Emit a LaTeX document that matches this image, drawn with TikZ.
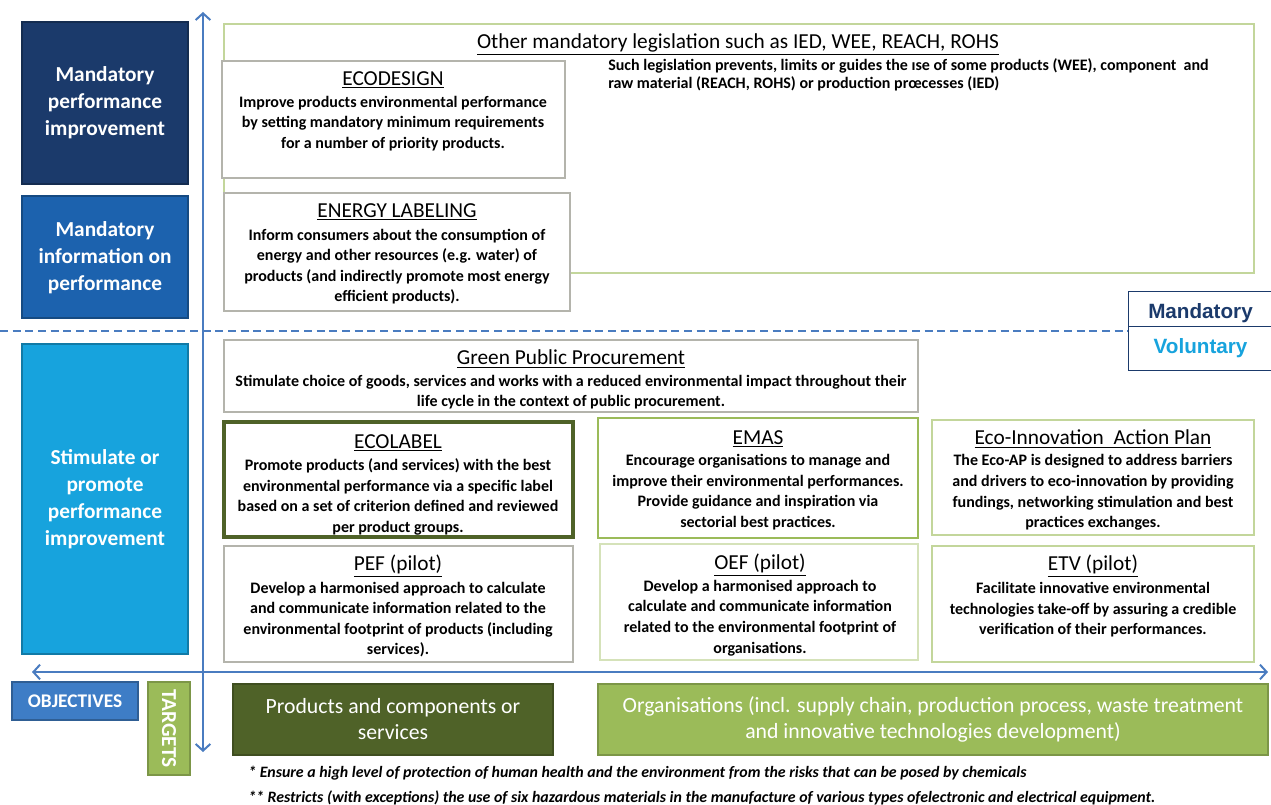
\documentclass[tikz,border=0pt]{standalone}
\usepackage{fontspec}
\setmainfont{Carlito}
\newfontfamily\arialfont{Liberation Sans}
\usepackage{xcolor}
\usetikzlibrary{positioning,fit,arrows.meta}
\definecolor{navy}{HTML}{1B3A6B}
\definecolor{midblue}{HTML}{1C62AE}
\definecolor{skyblue}{HTML}{17A3DD}
\definecolor{objblue}{HTML}{3E7DC6}
\definecolor{axisblue}{HTML}{4A7CC0}
\definecolor{darkgreen}{HTML}{4F6228}
\definecolor{leafgreen}{HTML}{9BBB59}
\definecolor{palegreen}{HTML}{C3D69B}
\definecolor{boxgrey}{HTML}{B4B4AC}
\tikzset{pane/.style={draw=#1,fill=white,line width=0.8pt,inner sep=0pt},
  pane/.default=boxgrey,
  head/.style={font=\fontsize{16}{18}\selectfont,inner sep=0pt},
  body/.style={font=\bfseries\fontsize{12}{15.4}\selectfont,align=center,inner sep=0pt},
  aim/.style={fill=#1,draw=#1!75!black,line width=0.8pt,inner sep=0pt},
  aimtext/.style={text=white,font=\bfseries\fontsize{16}{20.25}\selectfont,align=center,inner sep=0pt},
  target/.style={fill=#1,draw=#1!80!black,line width=0.8pt,inner sep=0pt},
  axis/.style={draw=axisblue,line width=1.5pt,{Straight Barb[length=5pt,width=11pt]}-{Straight Barb[length=5pt,width=11pt]}},
  note/.style={font=\bfseries\itshape\fontsize{11.9}{13}\selectfont,anchor=west,inner sep=0pt}}

\begin{document}
\begin{tikzpicture}[x=0.75pt,y=-0.75pt]
	\useasboundingbox (0,0) rectangle (1271,805);

	\node[aim=navy,fit={(22,22) (188,184)}] (mpi) {};
	\node[aim=midblue,fit={(22,196) (188,318)}] (mip) {};
	\node[aim=skyblue,fit={(22,344) (188,654)}] (spi) {};
	\node[aimtext] at (105,103) {Mandatory\\performance\\improvement};
	\node[aimtext] at (105,258) {Mandatory\\information on\\performance};
	\node[aimtext] at (105,499.5) {Stimulate or\\promote\\performance\\improvement};

	\node[pane=palegreen,fit={(224,24) (1254,273)}] (oml) {};
	\node[head] (omlT) at (738,44) {\underline{Other mandatory legislation such as IED, WEE, REACH, ROHS}};
	\node[font=\bfseries\fontsize{12}{13.5}\selectfont,align=left,anchor=west,inner sep=0pt] (omlB) at (608,75) {Such legislation prevents, limits or guides the ıse of some products (WEE), component\ \ and\\raw material (REACH, ROHS) or production prœcesses (IED)};

	\node[pane,fit={(222,61) (565,178)}] (ecod) {};
	\node[head] (ecodT) at (393,80) {\underline{ECODESIGN}};
	\node[body] (ecodB) at (393,123.5) {Improve products environmental performance\\by setting mandatory minimum requirements\\for a number of priority products.};

	\node[pane,fit={(224,193) (570,311)}] (enl) {};
	\node[head] (enlT) at (397,212) {\underline{ENERGY LABELING}};
	\node[body] (enlB) at (397,266.5) {Inform consumers about the consumption of\\energy and other resources (e.g. water) of\\products (and indirectly promote most energy\\efficient products).};

	\coordinate (dashL) at (0,331);
	\coordinate (dashR) at (1271,331);
	\draw[axisblue,line width=1.5pt,dash pattern=on 6pt off 3.5pt] (dashL) -- (dashR);

	\node[draw=navy,line width=1.2pt,fill=white,fit={(1133,296) (1268,331)}] (mand) {};
	\node[draw=navy,line width=1.2pt,fill=white,fit={(1133,331) (1268,366)}] (volu) {};
	\node[font=\arialfont\bfseries\fontsize{15.5}{17}\selectfont,text=navy,inner sep=0pt] at (mand.center) {Mandatory};
	\node[font=\arialfont\bfseries\fontsize{15.5}{17}\selectfont,text=skyblue,inner sep=0pt] at (volu.center) {Voluntary};

	\node[pane,fit={(224,340) (918,412)}] (gpp) {};
	\node[head] (gppT) at (571,359) {\underline{Green Public Procurement}};
	\node[body] (gppB) at (571,392) {Stimulate choice of goods, services and works with a reduced environmental impact throughout their\\life cycle in the context of public procurement.};

	\node[pane=darkgreen,line width=2.4pt,fit={(224,422) (573,537)}] (ecol) {};
	\node[head] (ecolT) at (398,443) {\underline{ECOLABEL}};
	\node[body] (ecolB) at (398,497) {Promote products (and services) with the best\\environmental performance via a specific label\\based on a set of criterion defined and reviewed\\per product groups.};

	\node[pane=leafgreen,line width=2pt,fit={(598,418) (918,538)}] (emas) {};
	\node[head] (emasT) at (758,439) {\underline{EMAS}};
	\node[body] (emasB) at (758,492) {Encourage organisations to manage and\\improve their environmental performances.\\Provide guidance and inspiration via\\sectorial best practices.};

	\node[pane=palegreen,fit={(932,420) (1254,535)}] (ecoap) {};
	\node[head] (ecoapT) at (1093,439) {\underline{Eco-Innovation\ \ Action Plan}};
	\node[body] (ecoapB) at (1093,492.5) {The Eco-AP is designed to address barriers\\and drivers to eco-innovation by providing\\fundings, networking stimulation and best\\practices exchanges.};

	\node[pane,fit={(224,546) (573,662)}] (pef) {};
	\node[head] (pefT) at (398,566) {\underline{PEF (pilot)}};
	\node[body] (pefB) at (398,619.5) {Develop a harmonised approach to calculate\\and communicate information related to the\\environmental footprint of products (including\\services).};

	\node[pane=palegreen!70!white,fit={(600,544) (918,660)}] (oef) {};
	\node[head] (oefT) at (760,565) {\underline{OEF (pilot)}};
	\node[body] (oefB) at (760,618) {Develop a harmonised approach to\\calculate and communicate information\\related to the environmental footprint of\\organisations.};

	\node[pane=palegreen,fit={(932,546) (1254,662)}] (etv) {};
	\node[head] (etvT) at (1093,566) {\underline{ETV (pilot)}};
	\node[body] (etvB) at (1093,610) {Facilitate innovative environmental\\technologies take-off by assuring a credible\\verification of their performances.};

	\coordinate (vtop) at (203,12);
	\coordinate (vbot) at (203,752);
	\coordinate (hleft) at (32,672);
	\coordinate (hright) at (1268,672);
	\draw[axis] (vbot) -- (vtop);
	\draw[axis] (hleft) -- (hright);

	\node[aim=objblue,fit={(12,682) (138,720)}] (obj) {};
	\node[text=white,font=\bfseries\fontsize{14.5}{16}\selectfont,inner sep=0pt] at (obj.center) {OBJECTIVES};
	\node[target=leafgreen,fit={(148,682) (190,775)}] (tgt) {};
	\node[text=white,font=\bfseries\fontsize{16}{18}\selectfont,rotate=-90,inner sep=0pt] at (tgt.center) {TARGETS};

	\node[target=darkgreen,fit={(233,684) (553,755)}] (prod) {};
	\node[text=white,font=\fontsize{16.3}{19.5}\selectfont,align=center,inner sep=0pt] at (prod.center) {Products and components or\\services};
	\node[target=leafgreen,fit={(598,684) (1268,755)}] (orgs) {};
	\node[text=white,font=\fontsize{16.3}{19.5}\selectfont,align=center,inner sep=0pt] at (orgs.center) {Organisations (incl. supply chain, production process, waste treatment\\and innovative technologies development)};

	\node[note] (fn1) at (248,773) {* Ensure a high level of protection of human health and the environment from the risks that can be posed by chemicals};
	\node[note] (fn2) at (248,798) {** Restricts (with exceptions) the use of six hazardous materials in the manufacture of various types ofelectronic and electrical equipment.};
\end{tikzpicture}
\end{document}
